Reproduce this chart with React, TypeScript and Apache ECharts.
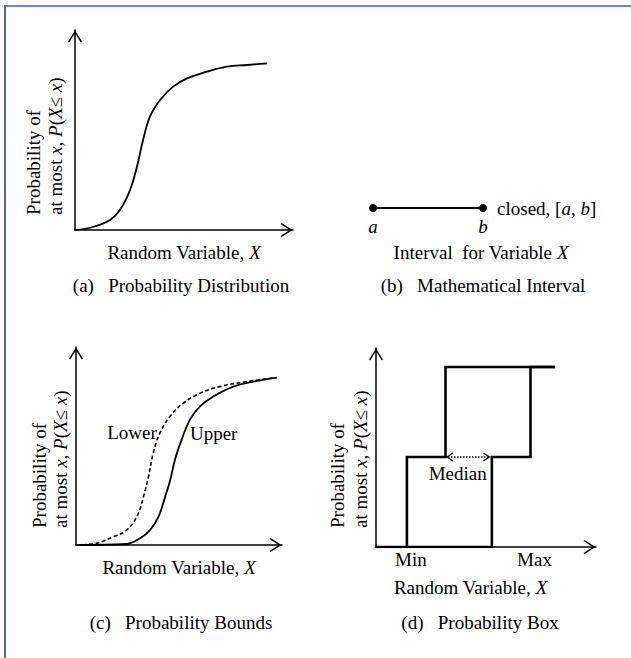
import React, { useEffect, useRef } from 'react';
import * as echarts from 'echarts';

const FONT = "'Liberation Serif', 'Times New Roman', serif";
const INK = '#000';

// (a) Probability distribution: a single CDF
const distX = [0, 0.94, 1.83, 2.35, 2.88, 3.24, 3.56, 3.92, 4.45, 5.13, 5.86, 6.9, 7.95, 9.0, 10.04];
const distY = [0, 0.018, 0.06, 0.12, 0.24, 0.38, 0.54, 0.68, 0.78, 0.86, 0.91, 0.95, 0.98, 0.99, 1.0];

// (b) Mathematical interval [a, b]
const intervalX = [1, 4.5];
const intervalNames = ['a', 'b'];

// (c) Probability bounds: lower (dashed) and upper (solid) CDFs
const lowerX = [0, 1.0, 1.86, 2.52, 3.02, 3.35, 3.6, 3.85, 4.18, 4.68, 5.34, 6.17, 7.16, 8.49, 9.98];
const lowerY = [0, 0.01, 0.05, 0.09, 0.17, 0.29, 0.41, 0.56, 0.68, 0.78, 0.86, 0.92, 0.96, 0.99, 1.015];
const upperX = [0, 2.5, 3.18, 3.68, 4.1, 4.43, 4.68, 4.93, 5.26, 5.67, 6.17, 6.83, 7.83, 8.82, 9.98];
const upperY = [0, 0.006, 0.04, 0.09, 0.17, 0.29, 0.39, 0.52, 0.64, 0.76, 0.84, 0.9, 0.96, 0.99, 1.015];
const lowerLabelIndex = 8;
const upperLabelIndex = 8;

// (d) Probability box: two step CDFs
const boxLeftX = [1, 1, 2.25, 2.25, 5.75];
const boxLeftY = [0, 0.5, 0.5, 1, 1];
const boxRightX = [0, 3.75, 3.75, 5, 5, 5.75];
const boxRightY = [0, 0, 0.5, 0.5, 1, 1];
const medianRange = [2.25, 3.75];
const medianLevel = 0.5;
const boxTickValues = [1, 5];
const boxTickLabels = ['Min', 'Max'];

const captions = ['(a)   Probability Distribution', '(b)   Mathematical Interval', '(c)   Probability Bounds', '(d)   Probability Box'];

const CHEVRON = 'path://M7,0 L14,10.9 L12.9,12 L7,2.8 L1.1,12 L0,10.9 Z';

const rich = {
  n: { fontFamily: FONT, fontSize: 19, color: INK, lineHeight: 20 },
  i: { fontFamily: FONT, fontSize: 19, color: INK, fontStyle: 'italic', lineHeight: 20 },
};
const xName = '{n|Random Variable, }{i|X}';
const yLine1 = '{n|Probability of}';
const yLine2 = '{n|at most }{i|x}{n|, }{i|P}{n|(}{i|X}{n|≤ }{i|x}{n|)}';

const zip = (xs: number[], ys: number[]) => xs.map((x, i) => [x, ys[i]]);

const arrowAxisLine = {
  show: true,
  symbol: ['none', CHEVRON],
  symbolSize: [14, 13],
  symbolOffset: [0, -6.5],
  lineStyle: { color: INK, width: 1.5 },
};

function makeX(gridIndex: number, max: number, extra: any = {}) {
  return {
    type: 'value', gridIndex, min: 0, max,
    axisLine: arrowAxisLine,
    axisTick: { show: false },
    axisLabel: { show: false },
    splitLine: { show: false },
    ...extra,
  };
}
function makeY(gridIndex: number, max: number) {
  return {
    type: 'value', gridIndex, min: 0, max,
    axisLine: arrowAxisLine,
    axisTick: { show: false },
    axisLabel: { show: false },
    splitLine: { show: false },
  };
}

function text(x: number, y: number, t: string, align = 'center', rotation = 0) {
  return {
    type: 'text', x, y, rotation, silent: true,
    style: { text: t, rich, align, verticalAlign: 'middle', fill: INK, fontFamily: FONT, fontSize: 19 },
  };
}

function labelPoint(name: string, x: number, y: number, label: any) {
  return {
    name, type: 'scatter', xAxisIndex: 2, yAxisIndex: 2,
    data: [[x, y]], symbolSize: 0.5, itemStyle: { color: INK, opacity: 1 },
    label: { show: true, formatter: name, color: INK, fontFamily: FONT, fontSize: 19, ...label },
    silent: true, z: 5,
  };
}

export default function App() {
  const ref = useRef<HTMLDivElement>(null);
  useEffect(() => {
    if (!ref.current) return;
    const chart = echarts.init(ref.current, null, { renderer: 'svg' });
    const thin = { color: INK, width: 1.8 };
    const thick = { color: INK, width: 2.6, join: 'miter', cap: 'square' };
    const option: any = {
      animation: false,
      backgroundColor: '#fff',
      textStyle: { fontFamily: FONT },
      grid: [
        { left: 75, top: 30, width: 218, height: 200 },
        { left: 341.6, top: 198, width: 188.6, height: 20 },
        { left: 76, top: 347, width: 206, height: 198 },
        { left: 376, top: 348, width: 220, height: 199 },
      ],
      xAxis: [
        makeX(0, 11.4, { name: xName, nameLocation: 'middle', nameGap: 12, nameTextStyle: { rich } }),
        { type: 'value', gridIndex: 1, min: 0, max: 6, show: false },
        makeX(2, 10.25, { name: xName, nameLocation: 'middle', nameGap: 12, nameTextStyle: { rich } }),
        makeX(3, 7.12, {
          name: xName, nameLocation: 'middle', nameGap: 30,
          nameTextStyle: { rich, padding: [0, 31, 0, 0] },
          interval: 1,
          axisLabel: {
            show: true, margin: 3, color: INK, fontFamily: FONT, fontSize: 19,
            padding: [0, 0, 0, 8],
            formatter: (v: number) => {
              const k = boxTickValues.indexOf(v);
              return k >= 0 ? boxTickLabels[k] : '';
            },
          },
        }),
      ],
      yAxis: [
        makeY(0, 1.2),
        { type: 'value', gridIndex: 1, min: 0, max: 1, show: false },
        makeY(2, 1.2),
        makeY(3, 1.106),
      ],
      series: [
        {
          name: 'Probability Distribution', type: 'line', xAxisIndex: 0, yAxisIndex: 0,
          data: zip(distX, distY), smooth: 0.4, showSymbol: false,
          lineStyle: thin,
        },
        {
          name: 'Interval', type: 'line', xAxisIndex: 1, yAxisIndex: 1,
          data: intervalX.map((x) => [x, 0.5]),
          symbol: 'circle', symbolSize: 8, showSymbol: true,
          itemStyle: { color: INK },
          lineStyle: thin,
          label: {
            show: true, position: 'bottom', distance: 4,
            formatter: (p: any) => `{i|${intervalNames[p.dataIndex]}}`,
            rich,
          },
          endLabel: {
            show: true, distance: 14,
            formatter: '{n|closed, [}{i|a}{n|, }{i|b}{n|]}',
            rich,
          },
        },
        {
          name: 'Lower bound', type: 'line', xAxisIndex: 2, yAxisIndex: 2,
          data: zip(lowerX, lowerY),
          smooth: 0.4, showSymbol: false,
          lineStyle: { color: INK, width: 1.6, type: [4, 2.5] },
        },
        {
          name: 'Upper bound', type: 'line', xAxisIndex: 2, yAxisIndex: 2,
          data: zip(upperX, upperY),
          smooth: 0.4, showSymbol: false,
          lineStyle: thin,
        },
        labelPoint('Lower', lowerX[lowerLabelIndex], lowerY[lowerLabelIndex], { position: 'left', distance: 3 }),
        labelPoint('Upper', upperX[upperLabelIndex], upperY[upperLabelIndex], { position: 'right', distance: 8, offset: [0, -6] }),
        {
          name: 'Box left', type: 'line', xAxisIndex: 3, yAxisIndex: 3,
          data: zip(boxLeftX, boxLeftY), showSymbol: false, lineStyle: thick,
        },
        {
          name: 'Box right', type: 'line', xAxisIndex: 3, yAxisIndex: 3,
          data: zip(boxRightX, boxRightY), showSymbol: false, lineStyle: thick,
        },
        {
          name: 'Median', type: 'custom', xAxisIndex: 3, yAxisIndex: 3,
          data: [[medianRange[0], medianRange[1], medianLevel]],
          encode: { x: [0, 1], y: 2 },
          silent: true, z: 4,
          renderItem: (params: any, api: any) => {
            const lv = api.value(2);
            const p1 = api.coord([api.value(0), lv]);
            const p2 = api.coord([api.value(1), lv]);
            const ax = p1[0] + 1.5;
            const bx = p2[0] - 2.5;
            const y = p1[1];
            const chev = { stroke: INK, lineWidth: 1.3, fill: null };
            return {
              type: 'group',
              children: [
                { type: 'line', shape: { x1: ax + 1, y1: y, x2: bx - 1, y2: y }, style: { stroke: INK, lineWidth: 1.5, lineDash: [1.5, 1.5] } },
                { type: 'polyline', shape: { points: [[ax + 6, y - 4], [ax, y], [ax + 6, y + 4]] }, style: chev },
                { type: 'polyline', shape: { points: [[bx - 6, y - 4], [bx, y], [bx - 6, y + 4]] }, style: chev },
                {
                  type: 'text', x: (p1[0] + p2[0]) / 2 - 11, y: y + 16,
                  style: { text: 'Median', fill: INK, fontFamily: FONT, fontSize: 19, align: 'center', verticalAlign: 'middle' },
                },
              ],
            };
          },
        },
      ],
      graphic: [
        { type: 'line', shape: { x1: 5, y1: 6, x2: 631, y2: 6 }, style: { stroke: '#7282c4', lineWidth: 2 }, silent: true },
        { type: 'line', shape: { x1: 5, y1: 5, x2: 5, y2: 658 }, style: { stroke: '#5068b9', lineWidth: 2 }, silent: true },
        text(33, 215, yLine1, 'left', Math.PI / 2),
        text(55, 215, yLine2, 'left', Math.PI / 2),
        text(39, 528, yLine1, 'left', Math.PI / 2),
        text(60, 528, yLine2, 'left', Math.PI / 2),
        text(337, 528, yLine1, 'left', Math.PI / 2),
        text(360, 528, yLine2, 'left', Math.PI / 2),
        text(481, 252, '{n|Interval  for Variable }{i|X}'),
        text(181, 285, `{n|${captions[0]}}`),
        text(483, 285, `{n|${captions[1]}}`),
        text(181, 622, `{n|${captions[2]}}`),
        text(480, 622, `{n|${captions[3]}}`),
      ],
    };
    chart.setOption(option);
    return () => chart.dispose();
  }, []);
  return <div ref={ref} style={{ position: 'absolute', left: 0, top: 0, width: 631, height: 658, background: '#fff' }} />;
}
